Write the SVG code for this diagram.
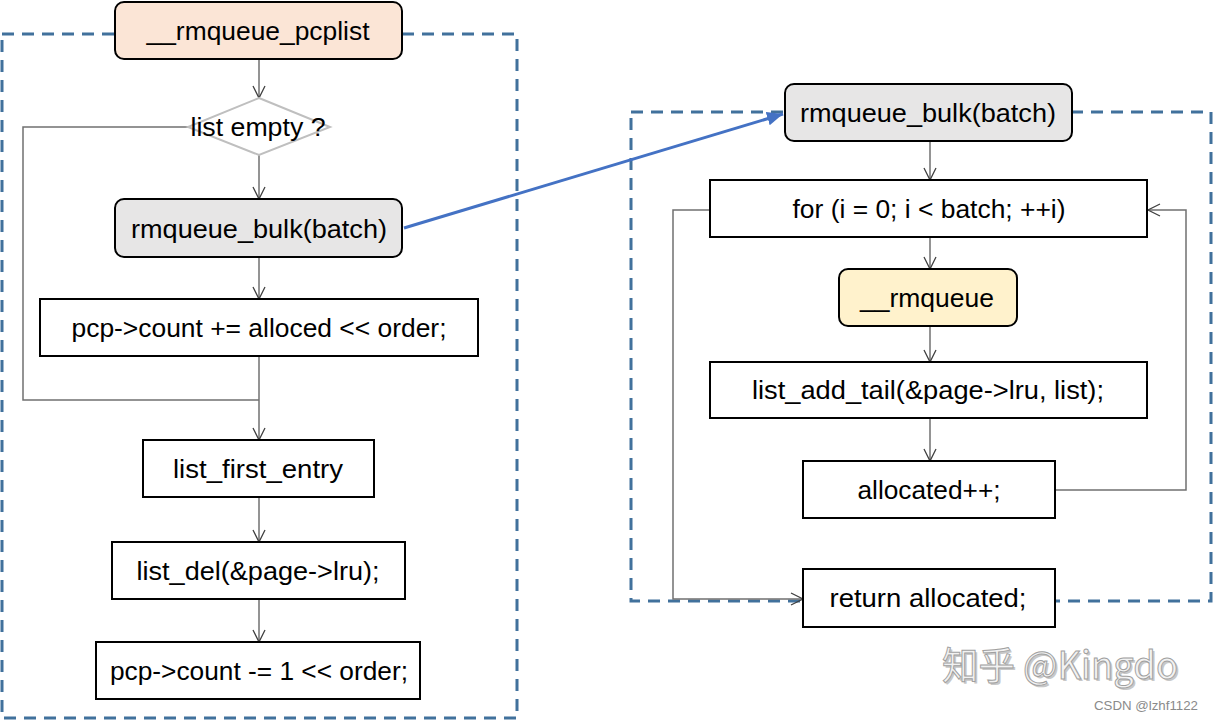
<svg xmlns="http://www.w3.org/2000/svg" width="1213" height="721" viewBox="0 0 1213 721">
<style>
.box{stroke:#000;stroke-width:2;fill:#fff}
.rbox{stroke:#000;stroke-width:2}
.t{font-family:"Liberation Sans",Arial,sans-serif;font-size:26px;fill:#000;text-anchor:middle}
.frame{fill:none;stroke:#41719C;stroke-width:3;stroke-dasharray:12,8}
.c{fill:none;stroke:#707070;stroke-width:1.5}
.wm{font-family:"Noto Sans CJK SC","Liberation Sans",sans-serif;font-size:38px}
</style>
<defs>
<marker id="ah" markerUnits="userSpaceOnUse" markerWidth="16" markerHeight="16" refX="13" refY="7" orient="auto">
<path d="M1,1 L13,7 L1,13" fill="none" stroke="#404040" stroke-width="1.3"/>
</marker>
<marker id="bh" markerUnits="userSpaceOnUse" markerWidth="20" markerHeight="20" refX="16" refY="8" orient="auto">
<path d="M0,1 L16,8 L0,15 z" fill="#4472C4"/>
</marker>
</defs>
<rect width="1213" height="721" fill="#fff"/>
<g id="frames">
<rect class="frame" x="2" y="34" width="515" height="684"/>
<rect class="frame" x="631" y="112" width="580" height="489"/>
</g>
<g id="connectors">
<line class="c" x1="259" y1="59" x2="259" y2="98" marker-end="url(#ah)"/>
<line class="c" x1="259" y1="155" x2="259" y2="199" marker-end="url(#ah)"/>
<line class="c" x1="259" y1="257" x2="259" y2="299" marker-end="url(#ah)"/>
<line class="c" x1="259" y1="356" x2="259" y2="440" marker-end="url(#ah)"/>
<polyline class="c" points="191,127 23,127 23,400 259,400"/>
<line class="c" x1="259" y1="497" x2="259" y2="542" marker-end="url(#ah)"/>
<line class="c" x1="259" y1="599" x2="259" y2="642" marker-end="url(#ah)"/>
<line x1="404" y1="228" x2="783" y2="114" stroke="#4472C4" stroke-width="3" marker-end="url(#bh)"/>
<line class="c" x1="930" y1="141" x2="930" y2="180" marker-end="url(#ah)"/>
<line class="c" x1="930" y1="237" x2="930" y2="269" marker-end="url(#ah)"/>
<line class="c" x1="930" y1="326" x2="930" y2="362" marker-end="url(#ah)"/>
<line class="c" x1="930" y1="418" x2="930" y2="461" marker-end="url(#ah)"/>
<polyline class="c" points="1055,490 1186,490 1186,210 1148,210" marker-end="url(#ah)"/>
<polyline class="c" points="710,210 673,210 673,599 803,599" marker-end="url(#ah)"/>
</g>
<g id="n_pcplist">
<rect class="rbox" x="115" y="2" width="287" height="57" rx="9" fill="#FBE5D6"/>
<text class="t" x="258" y="40" textLength="223" lengthAdjust="spacingAndGlyphs">__rmqueue_pcplist</text>
</g>
<g id="n_empty">
<polygon points="259,98 330,127 259,155 188,127" fill="#fff" stroke="#BFBFBF" stroke-width="2"/>
<text class="t" x="258" y="136" textLength="135" lengthAdjust="spacingAndGlyphs">list empty ?</text>
</g>
<g id="n_bulk_left">
<rect class="rbox" x="115" y="199" width="287" height="58" rx="9" fill="#E7E6E6"/>
<text class="t" x="259" y="238" textLength="256" lengthAdjust="spacingAndGlyphs">rmqueue_bulk(batch)</text>
</g>
<g id="n_count_add">
<rect class="box" x="40" y="299" width="438" height="57"/>
<text class="t" x="259" y="337" textLength="375" lengthAdjust="spacingAndGlyphs">pcp-&gt;count += alloced &lt;&lt; order;</text>
</g>
<g id="n_first">
<rect class="box" x="143" y="440" width="231" height="57"/>
<text class="t" x="258" y="478" textLength="170" lengthAdjust="spacingAndGlyphs">list_first_entry</text>
</g>
<g id="n_del">
<rect class="box" x="112" y="542" width="293" height="57"/>
<text class="t" x="258" y="580" textLength="243" lengthAdjust="spacingAndGlyphs">list_del(&amp;page-&gt;lru);</text>
</g>
<g id="n_count_sub">
<rect class="box" x="96" y="642" width="324" height="57"/>
<text class="t" x="259" y="680" textLength="298" lengthAdjust="spacingAndGlyphs">pcp-&gt;count -= 1 &lt;&lt; order;</text>
</g>
<g id="n_bulk_right">
<rect class="rbox" x="785" y="84" width="287" height="57" rx="9" fill="#E7E6E6"/>
<text class="t" x="928" y="122" textLength="256" lengthAdjust="spacingAndGlyphs">rmqueue_bulk(batch)</text>
</g>
<g id="n_for">
<rect class="box" x="710" y="180" width="437" height="57"/>
<text class="t" x="929" y="218" textLength="273" lengthAdjust="spacingAndGlyphs">for (i = 0; i &lt; batch; ++i)</text>
</g>
<g id="n_rmqueue">
<rect class="rbox" x="839" y="269" width="178" height="57" rx="9" fill="#FFF2CC"/>
<text class="t" x="927" y="307" textLength="134" lengthAdjust="spacingAndGlyphs">__rmqueue</text>
</g>
<g id="n_add_tail">
<rect class="box" x="710" y="362" width="437" height="56"/>
<text class="t" x="928" y="399" textLength="352" lengthAdjust="spacingAndGlyphs">list_add_tail(&amp;page-&gt;lru, list);</text>
</g>
<g id="n_alloc_inc">
<rect class="box" x="803" y="461" width="252" height="57"/>
<text class="t" x="929" y="499" textLength="143" lengthAdjust="spacingAndGlyphs">allocated++;</text>
</g>
<g id="n_return">
<rect class="box" x="803" y="569" width="252" height="58"/>
<text class="t" x="928" y="607" textLength="197" lengthAdjust="spacingAndGlyphs">return allocated;</text>
</g>
<g id="watermark">
<text class="wm" x="944" y="681" textLength="236" lengthAdjust="spacingAndGlyphs" fill="#c8c8c8">知乎 @Kingdo</text>
<text class="wm" x="942" y="679" textLength="236" lengthAdjust="spacingAndGlyphs" fill="#f2f2f2" stroke="#a0a0a0" stroke-width="1">知乎 @Kingdo</text>
<text x="1198" y="710" font-family="'Liberation Sans',Arial,sans-serif" font-size="12" fill="#8a8a8a" text-anchor="end" textLength="104" lengthAdjust="spacingAndGlyphs">CSDN @lzhf1122</text>
</g>
</svg>
